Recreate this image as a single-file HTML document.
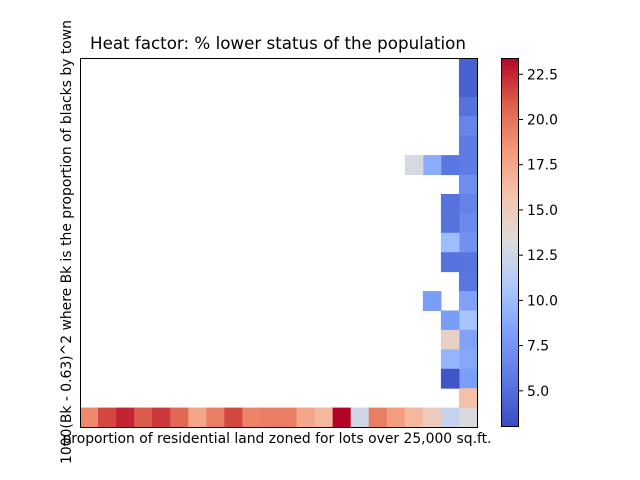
<!DOCTYPE html>
<html><head><meta charset="utf-8"><style>
body{margin:0;background:#fff;}
svg{display:block;font-family:"DejaVu Sans","Liberation Sans",sans-serif;}
</style></head><body>
<svg id="chart" width="640" height="480">
<text x="278" y="49" text-anchor="middle" font-size="16.7">Heat factor: % lower status of the population</text>
<g id="cells"></g>
<rect x="80.5" y="58.5" width="397" height="369" fill="none" stroke="#000" stroke-width="1"/>
<text x="277" y="443" text-anchor="middle" font-size="13.9">proportion of residential land zoned for lots over 25,000 sq.ft.</text>
<text transform="translate(71,242) rotate(-90)" text-anchor="middle" font-size="13.9">1000(Bk - 0.63)^2 where Bk is the proportion of blacks by town</text>
<defs><linearGradient id="cg" x1="0" y1="1" x2="0" y2="0"></linearGradient></defs>
<rect x="501" y="58" width="18" height="369" fill="url(#cg)"/>
<rect x="501.5" y="58.5" width="17" height="368" fill="none" stroke="#000"/>
<g id="cbticks"></g>
</svg>
<script>
const nCols = 22, nRows = 19;
const bottomRow = [19,21.5,22.5,21,22,20.5,17.5,19.5,21.5,19.2,19.5,19.5,17.5,16.5,23.4,12.5,19.5,18,16.5,15,12,13];
const col21 = [4.2,4.2,5.2,6.5,5.8,5.8,7,6.3,6.8,7.2,5.3,5.5,8.3,10.5,8.3,8.7,8.1,16];
const col20Rows = [5,7,8,9,10,13,14,15,16];
const col20Vals = [5.5,5.2,5.2,10,5.2,8,14.5,9.5,3.5];
const col19Rows = [5,12];
const col19Vals = [9,8];
const col18Rows = [5];
const col18Vals = [12.8];
const cbTicks = [5,7.5,10,12.5,15,17.5,20,22.5];
const vmin = 3.0, vmax = 23.4;
const stops=[[58,76,192],[90,120,226],[123,158,248],[170,199,253],[221,220,220],[245,196,173],[244,152,122],[222,96,76],[180,4,38]];
function cmap(t){t=Math.max(0,Math.min(1,t));const p=t*8,i=Math.min(7,Math.floor(p)),f=p-i;
 const a=stops[i],b=stops[i+1];return `rgb(${a.map((v,k)=>Math.round(v+(b[k]-v)*f)).join(',')})`;}
const x0=80,x1=477,y0=58,y1=427,cw=(x1-x0)/nCols,rh=(y1-y0)/nRows;
const xs=c=>x0+c*cw, ys=r=>y0+r*rh, norm=v=>(v-vmin)/(vmax-vmin);
const NS='http://www.w3.org/2000/svg', g=document.getElementById('cells');
function cell(c,r,v){const e=document.createElementNS(NS,'rect');
 e.setAttribute('x',xs(c));e.setAttribute('y',ys(r));e.setAttribute('width',cw+0.5);e.setAttribute('height',rh+0.5);
 e.setAttribute('fill',cmap(norm(v)));
 
 
 g.appendChild(e);}
bottomRow.forEach((v,c)=>cell(c,nRows-1,v));
col21.forEach((v,r)=>cell(21,r,v));
col20Rows.forEach((r,i)=>cell(20,r,col20Vals[i]));
col19Rows.forEach((r,i)=>cell(19,r,col19Vals[i]));
col18Rows.forEach((r,i)=>cell(18,r,col18Vals[i]));
const grad=document.getElementById('cg');
for(let i=0;i<=16;i++){const s=document.createElementNS(NS,'stop');s.setAttribute('offset',i/16);s.setAttribute('stop-color',cmap(i/16));grad.appendChild(s);}
const tg=document.getElementById('cbticks');
const cy=v=>y1-(v-vmin)/(vmax-vmin)*(y1-y0);
cbTicks.forEach(v=>{const l=document.createElementNS(NS,'line');
 l.setAttribute('x1',519);l.setAttribute('x2',523);l.setAttribute('y1',cy(v));l.setAttribute('y2',cy(v));l.setAttribute('stroke','#000');
 
 
 tg.appendChild(l);
 const t=document.createElementNS(NS,'text');t.setAttribute('x',527);t.setAttribute('y',cy(v)+5);t.setAttribute('font-size','13.9');
 t.textContent=v.toFixed(1);
 
 
 tg.appendChild(t);});
</script>
</body></html>
